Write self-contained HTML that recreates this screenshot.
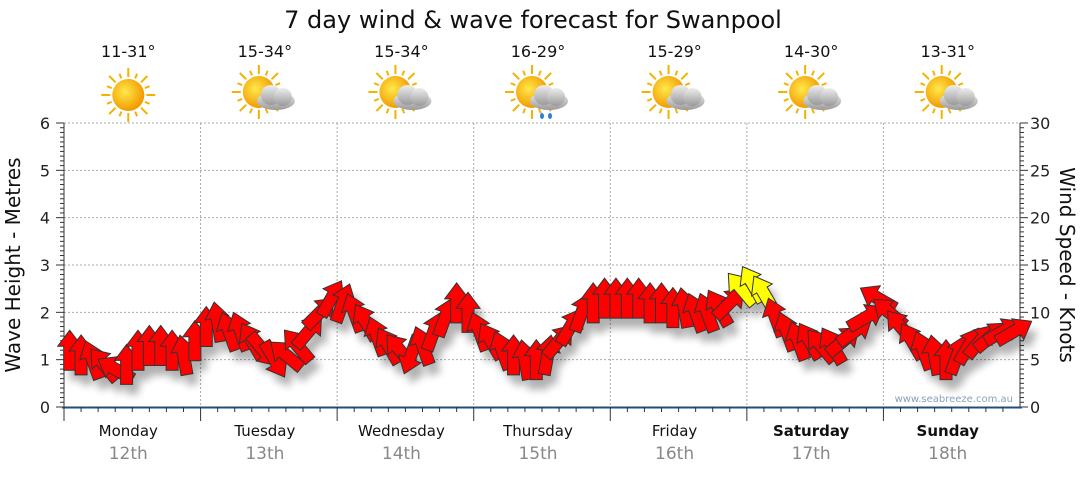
<!DOCTYPE html>
<html><head><meta charset="utf-8"><style>
body{margin:0;background:#fff;font-family:"Liberation Sans","DejaVu Sans",sans-serif}
svg text{font-family:"DejaVu Sans","Liberation Sans",sans-serif}
</style></head><body>
<svg id="c" width="1080" height="475" viewBox="0 0 1080 475">
<defs>
<filter id="sh" x="-50%" y="-50%" width="200%" height="200%"><feGaussianBlur stdDeviation="4"/></filter>
<radialGradient id="sun" cx="40%" cy="40%" r="60%"><stop offset="0" stop-color="#ffe94a"/><stop offset="1" stop-color="#f39a00"/></radialGradient>
<linearGradient id="cl" x1="0" y1="0" x2="0" y2="1"><stop offset="0" stop-color="#eeeeee"/><stop offset="1" stop-color="#9a9a9a"/></linearGradient>
</defs>
<text x="533" y="28" text-anchor="middle" font-size="24" fill="#111">7 day wind &amp; wave forecast for Swanpool</text>
<g id="grid"></g><g id="axes"></g><g id="icons"></g><g id="shadows" filter="url(#sh)" opacity="0.3"></g><g id="arrows"></g>
<text x="1013" y="402" text-anchor="end" font-size="10" fill="#8aa0b8">www.seabreeze.com.au</text>
<text transform="translate(20,265) rotate(-90)" text-anchor="middle" font-size="20" fill="#111">Wave Height - Metres</text>
<text transform="translate(1060,265) rotate(90)" text-anchor="middle" font-size="20" fill="#111">Wind Speed - Knots</text>
</svg>
<script>
const days=["Monday","Tuesday","Wednesday","Thursday","Friday","Saturday","Sunday"];
const dates=["12th","13th","14th","15th","16th","17th","18th"];
const temps=["11-31°","15-34°","15-34°","16-29°","15-29°","14-30°","13-31°"];
const iconTypes=["sun","cloud","cloud","rain","cloud","cloud","cloud"];
const waveTicks=[0,1,2,3,4,5,6];
const windTicks=[0,5,10,15,20,25,30];
const windSpeed=[6,5.5,5,4.5,4,4.5,6,6.5,6.5,6,5.5,7,
8.5,9,8,8,7,6,5,5.5,6.5,8,10,11.5,
11,10,9,7.5,6.5,6,5.5,6.5,8,9.5,11,10,
8,7,6,5.5,5,5,5.5,7,8.5,10,11,11.5,
11.5,11.5,11.5,11,11,10.5,10.5,10,10,10.5,11,12.5,
13,12,9.5,8,7,7,6.5,6.5,7,8,9.5,11.5,
10,8.5,7,6,5.5,5,5.5,6.5,7,7.5,8,8];
const windDir=[0,0,-20,-40,-60,0,0,0,0,0,-10,0,
0,-10,-20,-20,-30,140,150,-50,-40,40,45,30,
20,-20,-30,-20,-30,-40,200,-20,20,20,0,0,
-20,-30,-20,0,-10,0,10,40,30,20,0,0,
0,0,0,0,0,0,-10,-20,-20,-30,45,-40,
-30,-30,-20,-20,-20,-30,-40,-30,50,55,60,-60,
-50,-40,-30,-20,-10,0,20,30,40,50,60,60];
const X0=64,X1=1020,Y0=407,Y1=123;
const xs=i=>X0+(i+0.5)*(X1-X0)/windSpeed.length;
const yk=k=>Y0-k*(Y0-Y1)/30;
const yw=m=>Y0-m*(Y0-Y1)/6;
const NS="http://www.w3.org/2000/svg";
function mk(t,a,p){const e=document.createElementNS(NS,t);for(const k in a)e.setAttribute(k,a[k]);(p||document.getElementById('c')).appendChild(e);return e;}
const grid=document.getElementById('grid'),axes=document.getElementById('axes'),icons=document.getElementById('icons');
const dw=(X1-X0)/7;
waveTicks.forEach((v,i)=>{
 if(v>0){const l=mk('line',{x1:X0,x2:X1,y1:yw(v),y2:yw(v),stroke:'#aaa','stroke-dasharray':'2,2'},grid);
 }
 const t=mk('text',{x:50,y:yw(v)+6,'text-anchor':'end','font-size':16,fill:'#222'},axes);t.textContent=v;
 
 const r=mk('text',{x:1030,y:yk(windTicks[i])+6,'font-size':16,fill:'#222'},axes);r.textContent=windTicks[i];
 
});
for(let m=0;m<=60;m++){const y=Y0-m*(Y0-Y1)/60;
 mk('line',{x1:X0-(m%10==0?8:4),x2:X0,y1:y,y2:y,stroke:'#333'},axes);
 mk('line',{x1:X1,x2:X1+(m%10==0?8:4),y1:y,y2:y,stroke:'#333'},axes);}
mk('line',{x1:X0,x2:X0,y1:Y1,y2:Y0,stroke:'#333'},axes);
mk('line',{x1:X1,x2:X1,y1:Y1,y2:Y0,stroke:'#333'},axes);
mk('line',{x1:X0-2,x2:X1+2,y1:Y0+0.5,y2:Y0+0.5,stroke:'#1f4e79','stroke-width':2},axes);
for(let d=0;d<7;d++){
 const cx=X0+(d+0.5)*dw;
 if(d>0){const l=mk('line',{x1:X0+d*dw,x2:X0+d*dw,y1:Y1,y2:Y0,stroke:'#aaa','stroke-dasharray':'2,2'},grid);
 }
 for(let h=0;h<8;h++){const x=X0+d*dw+h*dw/8;mk('line',{x1:x,x2:x,y1:Y0,y2:Y0+(h==0?14:5),stroke:'#333'},axes);}
 const t=mk('text',{x:cx-4,y:436,'text-anchor':'middle','font-size':15,fill:'#111','font-weight':d>=5?'bold':'normal'},axes);t.textContent=days[d];
 
 const t2=mk('text',{x:cx-4,y:459,'text-anchor':'middle','font-size':17,fill:'#888'},axes);t2.textContent=dates[d];
 
 const t3=mk('text',{x:cx-4,y:57,'text-anchor':'middle','font-size':16,fill:'#111'},icons);t3.textContent=temps[d];
 
 const g=mk('g',{transform:`translate(${cx-4},95)`},icons);
 
 const sx=iconTypes[d]=='sun'?0:-6, sy=iconTypes[d]=='sun'?0:-3;
 for(let k=0;k<16;k++){const a=k*Math.PI/8;mk('line',{x1:sx+Math.cos(a)*18,y1:sy+Math.sin(a)*18,x2:sx+Math.cos(a)*(k%2?23:27),y2:sy+Math.sin(a)*(k%2?23:27),stroke:'#f2b300','stroke-width':2},g);}
 mk('circle',{cx:sx,cy:sy,r:16,fill:'url(#sun)'},g);
 if(iconTypes[d]!='sun'){
  mk('ellipse',{cx:11,cy:6,rx:19,ry:9,fill:'url(#cl)'},g);
  mk('circle',{cx:6,cy:0,r:10,fill:'url(#cl)'},g);mk('circle',{cx:18,cy:2,r:9,fill:'url(#cl)'},g);
  if(iconTypes[d]=='rain'){mk('ellipse',{cx:4,cy:21,rx:2,ry:3,fill:'#2a7fd8'},g);mk('ellipse',{cx:12,cy:21,rx:2,ry:3,fill:'#2a7fd8'},g);}
 }
}
const arrowPath="M0,-20 L12,-4 L6,-4 L6,20 L-6,20 L-6,-4 L-12,-4 Z";
const sh=document.getElementById('shadows'),ar=document.getElementById('arrows');
windSpeed.forEach((v,i)=>{
 const x=xs(i),y=yk(v);
 mk('path',{d:arrowPath,transform:`translate(${x+6},${y+10}) rotate(${windDir[i]})`,fill:'#000'},sh);
 const p=mk('path',{d:arrowPath,transform:`translate(${x},${y}) rotate(${windDir[i]})`,fill:v>=12?'#ffff00':'#ff0000',stroke:'#333','stroke-width':1});
 ar.appendChild(p);
 
 
});
</script>
</body></html>
